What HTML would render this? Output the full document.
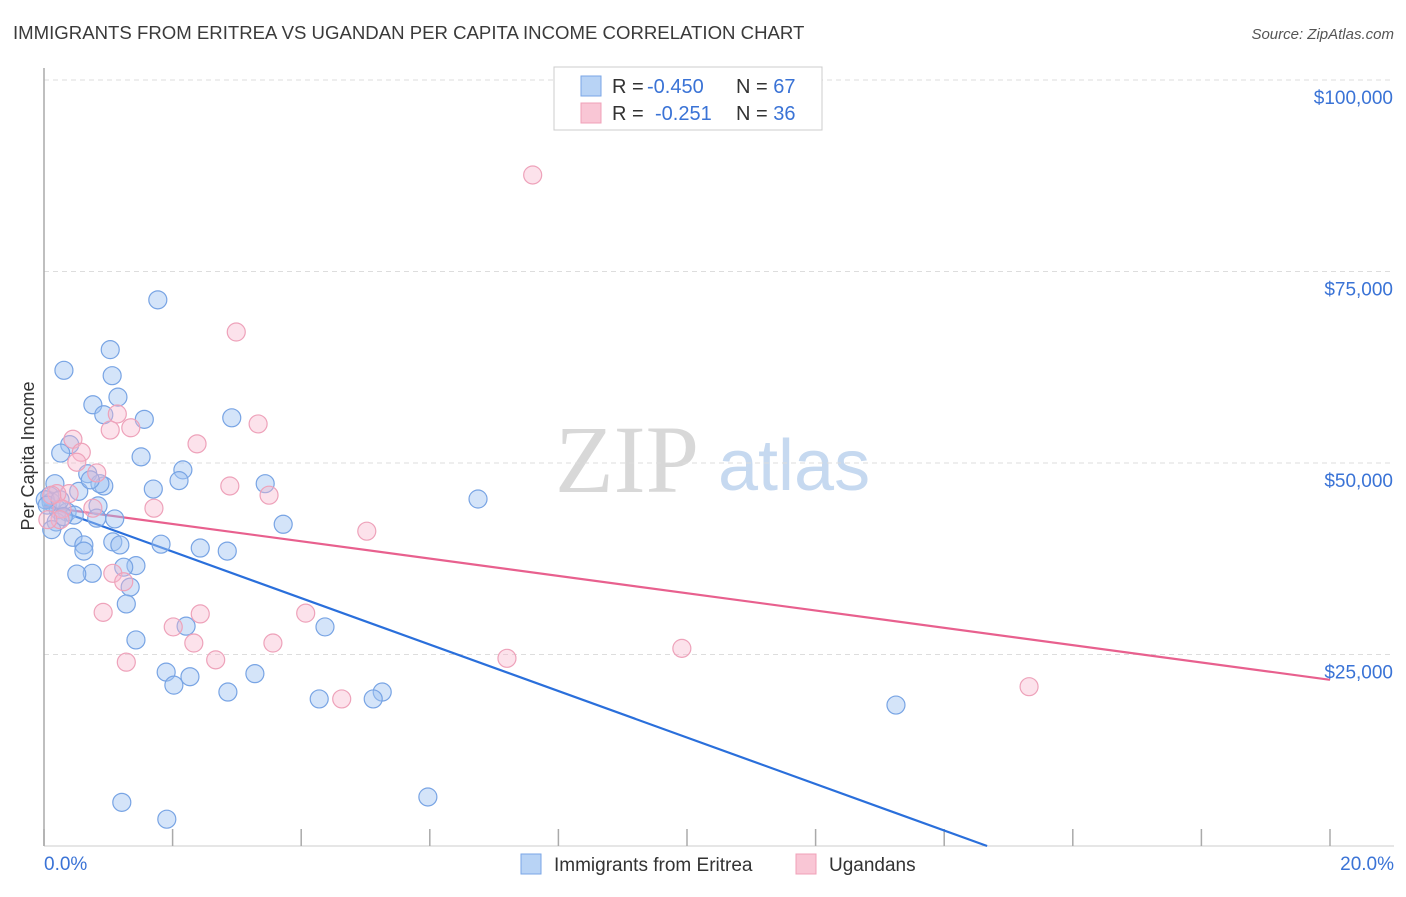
<!DOCTYPE html>
<html><head><meta charset="utf-8"><style>
body{margin:0;background:#fff;font-family:"Liberation Sans",sans-serif}
svg text{font-family:"Liberation Sans",sans-serif}
</style></head><body>
<svg id="chart" width="1406" height="892" viewBox="0 0 1406 892" xmlns="http://www.w3.org/2000/svg">
<text x="13" y="39" font-size="18.6" fill="#3a3a3a">IMMIGRANTS FROM ERITREA VS UGANDAN PER CAPITA INCOME CORRELATION CHART</text>
<text x="1394" y="39" font-size="15" fill="#555" text-anchor="end" font-style="italic">Source: ZipAtlas.com</text>
<g>
<text x="555" y="492" font-size="96" fill="#d8d8d8" font-family="Liberation Serif,serif" style="font-family:'Liberation Serif',serif">ZIP</text>
<text x="718" y="490" font-size="72" fill="#c6d9f0">atlas</text>
</g>
<g id="grid"></g>
<g id="axes"></g>
<g id="lines"></g>
<g id="points"></g>
<text transform="translate(34,456) rotate(-90)" font-size="18" fill="#333" text-anchor="middle">Per Capita Income</text>
<g>
<rect x="554" y="67" width="268" height="63" fill="#fff" stroke="#ccc"/>
<rect x="581" y="76" width="20" height="20" fill="#b8d3f5" stroke="#7aa6e6"/>
<rect x="581" y="103" width="20" height="20" fill="#f9c6d5" stroke="#f0a0b8"/>
<text x="612" y="93" font-size="20" fill="#333">R = <tspan fill="#3a73d6" x="647">-0.450</tspan><tspan x="736">N = </tspan><tspan fill="#3a73d6">67</tspan></text>
<text x="612" y="120" font-size="20" fill="#333">R = <tspan fill="#3a73d6" x="655">-0.251</tspan><tspan x="736">N = </tspan><tspan fill="#3a73d6">36</tspan></text>
</g>
<g>
<rect x="521" y="854" width="20" height="20" fill="#b8d3f5" stroke="#7aa6e6"/>
<text x="554" y="871" font-size="19" fill="#333">Immigrants from Eritrea</text>
<rect x="796" y="854" width="20" height="20" fill="#f9c6d5" stroke="#f0a0b8"/>
<text x="829" y="871" font-size="19" fill="#333">Ugandans</text>
</g>
</svg>
<script>
const blueX=[1.77,1.03,0.31,1.06,1.15,0.76,0.93,1.56,0.40,0.26,1.51,2.16,0.68,0.93,0.87,2.10,1.70,3.44,0.17,0.09,0.54,0.11,0.84,0.22,0.36,0.47,0.82,1.10,0.19,3.72,0.12,0.45,0.62,1.82,1.07,1.18,2.43,2.85,0.62,1.43,1.24,0.75,0.51,1.34,1.28,4.37,2.21,1.43,1.90,2.27,2.02,3.28,2.86,4.28,5.26,5.12,6.75,13.25,1.21,5.97,1.91,2.92,0.02,0.05,0.25,0.72,0.30];
const blueY=[71.3,64.8,62.1,61.4,58.6,57.6,56.3,55.7,52.4,51.3,50.8,49.1,48.6,47.0,47.3,47.7,46.6,47.3,47.3,45.7,46.3,44.9,44.4,43.9,43.6,43.2,42.8,42.7,42.3,42.0,41.3,40.3,39.3,39.4,39.7,39.3,38.9,38.5,38.5,36.6,36.4,35.6,35.5,33.8,31.6,28.6,28.7,26.9,22.7,22.1,21.0,22.5,20.1,19.2,20.1,19.2,45.3,18.4,5.7,6.4,3.5,55.9,45.2,44.5,45.2,47.8,43.0];
const pinkX=[7.60,2.99,1.14,3.33,1.03,1.35,0.45,2.38,0.58,0.51,0.82,2.89,3.50,0.39,0.20,1.71,0.28,0.76,5.02,1.07,1.24,2.43,0.92,4.07,2.01,2.33,3.56,1.28,2.67,9.92,7.20,4.63,15.32,0.25,0.12,0.06];
const pinkY=[87.6,67.1,56.4,55.1,54.3,54.6,53.1,52.5,51.4,50.1,48.7,47.0,45.8,46.0,46.0,44.1,44.0,44.1,41.1,35.6,34.5,30.3,30.5,30.4,28.6,26.5,26.5,24.0,24.3,25.8,24.5,19.2,20.8,42.6,45.8,42.6];
const blueFit=[44.5,-3.034];
const pinkFit=[44.3,-1.13];
const yTicks=[25,50,75,100];
const yTickLabels=["$25,000","$50,000","$75,000","$100,000"];
const xTicks=[0,2,4,6,8,10,12,14,16,18,20];
const NS="http://www.w3.org/2000/svg";
const X0=44,X1=1330,Y0=846,PXK=7.66;
const sx=v=>X0+(v/20)*(X1-X0);
const sy=v=>Y0-v*PXK;
function mk(tag,attrs,parent){const e=document.createElementNS(NS,tag);for(const k in attrs)e.setAttribute(k,attrs[k]);document.getElementById(parent).appendChild(e);return e;}
yTicks.forEach((t,i)=>{
 const l=mk('line',{x1:X0,x2:1394,y1:sy(t),y2:sy(t),stroke:'#ddd','stroke-dasharray':'5,4'},'grid');
 
 
 const tx=mk('text',{x:1393,y:sy(t)+24,'font-size':19,fill:'#3a73d6','text-anchor':'end'},'grid');
 tx.textContent=yTickLabels[i];
 
 
});
const ya=mk('line',{x1:X0,x2:X0,y1:68,y2:Y0,stroke:'#aaa','stroke-width':1.5},'axes');


const xa=mk('line',{x1:X0,x2:1394,y1:Y0,y2:Y0,stroke:'#ccc'},'axes');


xTicks.forEach(t=>{
 const l=mk('line',{x1:sx(t),x2:sx(t),y1:829,y2:Y0,stroke:'#aaa','stroke-width':1.5},'axes');
 
 
});
const xl0=mk('text',{x:44,y:870,'font-size':19,fill:'#3a73d6'},'axes');xl0.textContent='0.0%';


const xl1=mk('text',{x:1394,y:870,'font-size':19,fill:'#3a73d6','text-anchor':'end'},'axes');xl1.textContent='20.0%';


function dots(xs,ys,fill,stroke,name){xs.forEach((x,i)=>{const c=mk('circle',{cx:sx(x),cy:sy(ys[i]),r:9,fill:fill,stroke:stroke,'stroke-width':1.2},'points');
 
 });}
dots(blueX,blueY,'rgba(160,196,242,0.45)','#78a4e4','eritrea-point');
dots(pinkX,pinkY,'rgba(248,182,204,0.4)','#eea2ba','ugandan-point');
const bxEnd=Math.min(20,-blueFit[0]/blueFit[1]);
const bl=mk('line',{x1:sx(0),y1:sy(blueFit[0]),x2:sx(bxEnd),y2:sy(blueFit[0]+blueFit[1]*bxEnd),stroke:'#2a6fdb','stroke-width':2.2},'lines');


const pl=mk('line',{x1:sx(0),y1:sy(pinkFit[0]),x2:sx(20),y2:sy(pinkFit[0]+pinkFit[1]*20),stroke:'#e8608e','stroke-width':2.2},'lines');


</script>
</body></html>
